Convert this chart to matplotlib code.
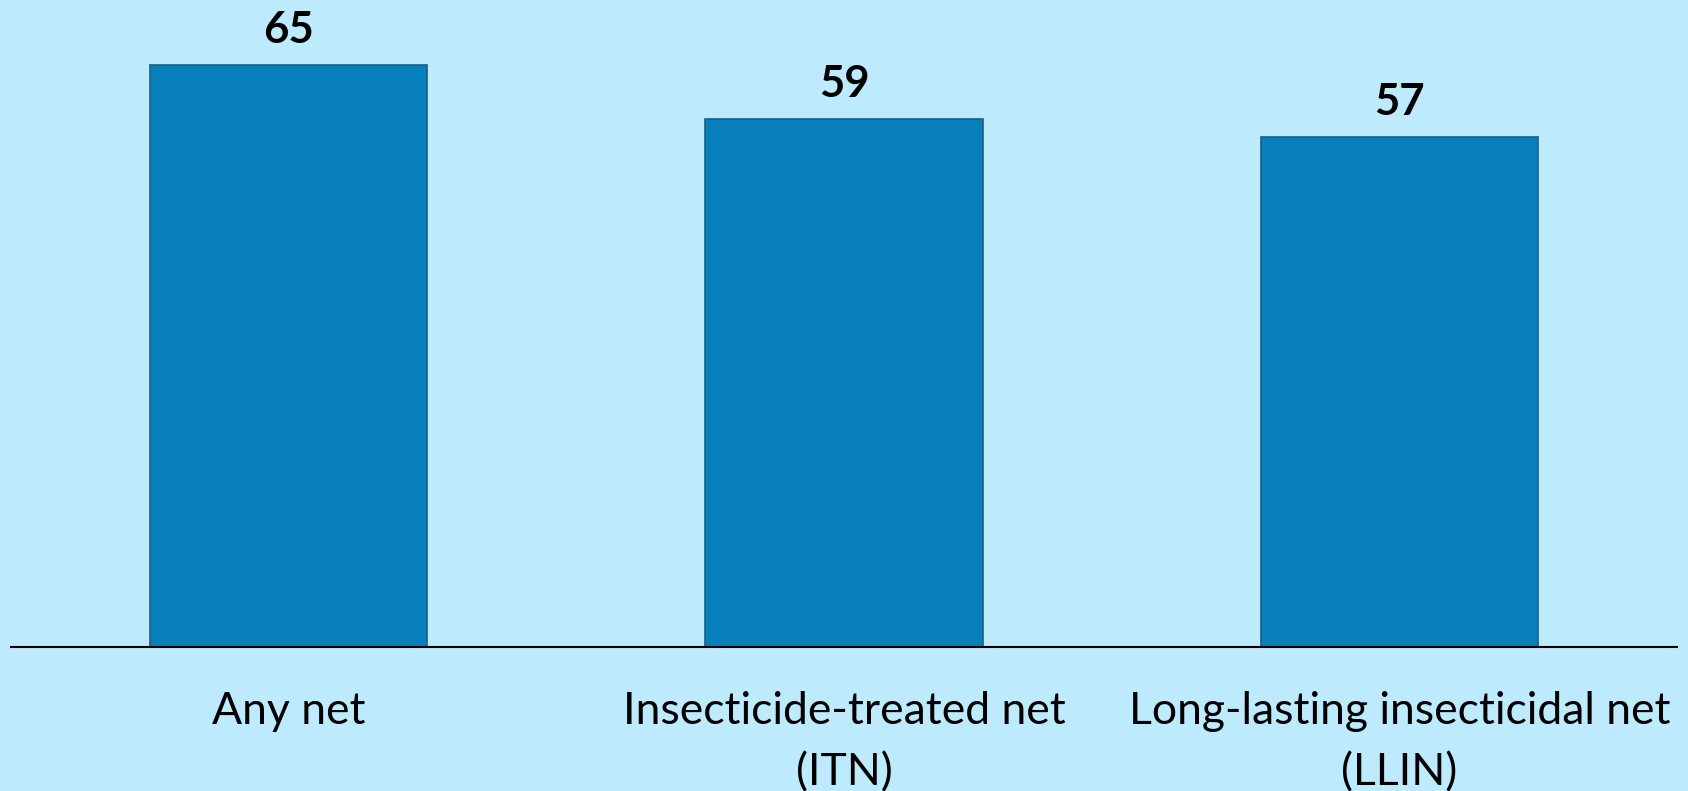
import matplotlib
matplotlib.use("Agg")
import matplotlib.pyplot as plt

categories = ["Any net", "Insecticide-treated net\n(ITN)", "Long-lasting insecticidal net\n(LLIN)"]
values = [65, 59, 57]

bg = "#BEEAFD"
plt.rcParams['font.family'] = ['Lato', 'DejaVu Sans']

fig = plt.figure(figsize=(16.88, 7.91), dpi=100, facecolor=bg)
ax = fig.add_axes([0.0065, 0.182, 0.987, 0.818])
ax.set_facecolor(bg)

x = list(range(len(categories)))
bars = ax.bar(x, values, width=0.5, color="#0880BC", edgecolor="#1B5E86", linewidth=1.2)

for xi, v in zip(x, values):
    ax.annotate(str(v), (xi, v), xytext=(0, 11), textcoords="offset points",
                ha="center", va="bottom", fontsize=31.5, fontweight="bold", color="black")

ax.set_xlim(-0.5, 2.5)
ax.set_ylim(0, 72.3)
ax.set_xticks(x)
ax.set_xticklabels(categories, fontsize=32, linespacing=1.6)
ax.tick_params(axis="x", length=0, pad=32)
ax.set_yticks([])
for s in ["top", "left", "right"]:
    ax.spines[s].set_visible(False)
ax.spines["bottom"].set_color("black")
ax.spines["bottom"].set_linewidth(1.5)

fig.savefig("out.png", dpi=100, facecolor=bg)
